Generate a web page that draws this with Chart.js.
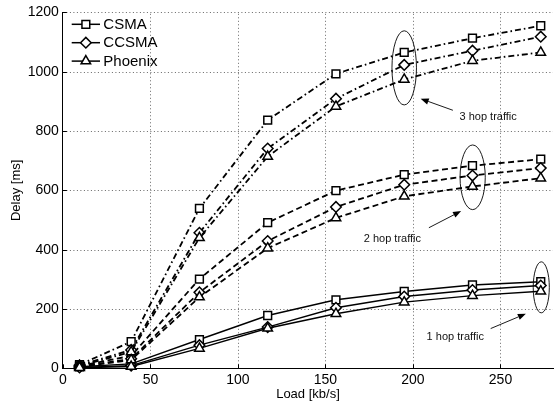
<!DOCTYPE html>
<html><head><meta charset="utf-8">
<script src="https://cdn.jsdelivr.net/npm/chart.js@4.4.1/dist/chart.umd.min.js"></script>
<style>html,body{margin:0;padding:0;background:#fff}#wrap{width:560px;height:404px}</style>
</head><body><div id="wrap"><canvas id="c" width="560" height="404"></canvas></div>
<script>
// ---- data ----
const loads = [9.5, 39, 78, 117, 156, 195, 234, 273];
const seriesNames = ['CSMA', 'CCSMA', 'Phoenix'];
const hop1CSMA    = [5, 15, 97, 178, 231, 259, 281, 292];
const hop1CCSMA   = [3, 9, 78, 139, 204, 242, 264, 279];
const hop1Phoenix = [2, 6, 67, 135, 184, 223, 245, 260];
const hop2CSMA    = [8, 42, 301, 491, 599, 653, 683, 705];
const hop2CCSMA   = [6, 32, 256, 429, 544, 619, 650, 675];
const hop2Phoenix = [5, 28, 240, 405, 507, 580, 613, 641];
const hop3CSMA    = [12, 90, 539, 837, 993, 1065, 1113, 1155];
const hop3CCSMA   = [10, 62, 457, 741, 909, 1023, 1071, 1118];
const hop3Phoenix = [8, 55, 440, 714, 883, 974, 1037, 1065];
const xTicks = [0, 50, 100, 150, 200, 250];
const yTicks = [0, 200, 400, 600, 800, 1000, 1200];
const hopLabels = ['1 hop traffic', '2 hop traffic', '3 hop traffic'];

// ---- styling / layout ----
const FONT = '"Liberation Sans", Arial, Helvetica, sans-serif';
const markerStyles = ['rect', 'rectRot', 'triangle'];
const markerOrder = [3, 2, 1];
const hopDash = [[], [6, 3.5], [6, 3, 1.6, 3]];
const hopData = [
  [hop1CSMA, hop1CCSMA, hop1Phoenix],
  [hop2CSMA, hop2CCSMA, hop2Phoenix],
  [hop3CSMA, hop3CCSMA, hop3Phoenix]
];
// annotation geometry (in data units)
const annot = [
  { ellipse: [273.3, 273, 4.6, 86],  from: [244.4, 134], to: [264.5, 184], text: [207.8, 106] },
  { ellipse: [234.1, 644, 7.2, 109], from: [209.1, 474], to: [227.5, 530], text: [171.9, 435] },
  { ellipse: [195.0, 1013, 7.0, 125], from: [222.8, 870], to: [204.4, 909], text: [226.6, 848] }
];

const datasets = [];
hopData.forEach((group, h) => {
  group.forEach((vals, s) => {
    datasets.push({
      label: seriesNames[s] + ' ' + hopLabels[h],
      data: loads.map((x, i) => ({ x: x, y: vals[i] })),
      borderColor: '#000',
      backgroundColor: '#fff',
      borderWidth: h === 0 ? 1.4 : 1.8,
      borderDash: hopDash[h],
      tension: 0,
      pointStyle: markerStyles[s],
      pointRadius: s === 1 ? 5.3 : 5.5,
      pointBorderWidth: 1.5,
      pointBorderColor: '#000',
      pointBackgroundColor: '#fff',
      order: markerOrder[s],
      clip: false
    });
  });
});

const decor = {
  id: 'decor',
  beforeDatasetsDraw(chart) {
    const ctx = chart.ctx, xs = chart.scales.x, ys = chart.scales.y, ca = chart.chartArea;
    ctx.save();
    ctx.strokeStyle = 'rgba(0,0,0,0.6)';
    ctx.lineWidth = 1;
    ctx.setLineDash([1, 2.5]);
    xTicks.forEach(v => {
      if (v === xs.min) return;
      const x = Math.round(xs.getPixelForValue(v)) + 0.5;
      ctx.beginPath(); ctx.moveTo(x, ca.bottom); ctx.lineTo(x, ca.top); ctx.stroke();
    });
    yTicks.forEach(v => {
      if (v === ys.min) return;
      const y = Math.round(ys.getPixelForValue(v)) + 0.5;
      ctx.beginPath(); ctx.moveTo(ca.left, y); ctx.lineTo(ca.right, y); ctx.stroke();
    });
    ctx.restore();
  },
  afterDatasetsDraw(chart) {
    const ctx = chart.ctx, xs = chart.scales.x, ys = chart.scales.y;
    ctx.save();
    ctx.strokeStyle = '#000';
    ctx.fillStyle = '#000';
    annot.forEach((a, i) => {
      const [cx, cy, rx, ry] = a.ellipse;
      const px = xs.getPixelForValue(cx), py = ys.getPixelForValue(cy);
      const prx = Math.abs(xs.getPixelForValue(cx + rx) - px);
      const pry = Math.abs(ys.getPixelForValue(cy + ry) - py);
      ctx.lineWidth = 0.9;
      ctx.setLineDash([]);
      ctx.beginPath();
      ctx.ellipse(px, py, prx, pry, 0, 0, Math.PI * 2);
      ctx.stroke();
      // arrow
      const x1 = xs.getPixelForValue(a.from[0]), y1 = ys.getPixelForValue(a.from[1]);
      const x2 = xs.getPixelForValue(a.to[0]), y2 = ys.getPixelForValue(a.to[1]);
      const ang = Math.atan2(y2 - y1, x2 - x1);
      const hl = 8, hw = 3.2;
      const bx = x2 - hl * Math.cos(ang), by = y2 - hl * Math.sin(ang);
      ctx.beginPath();
      ctx.moveTo(x1, y1); ctx.lineTo(bx, by); ctx.stroke();
      ctx.beginPath();
      ctx.moveTo(x2, y2);
      ctx.lineTo(bx + hw * Math.sin(ang), by - hw * Math.cos(ang));
      ctx.lineTo(bx - hw * Math.sin(ang), by + hw * Math.cos(ang));
      ctx.closePath(); ctx.fill();
      // text
      ctx.font = '11px ' + FONT;
      ctx.textAlign = 'left';
      ctx.textBaseline = 'middle';
      ctx.fillStyle = '#111';
      ctx.fillText(hopLabels[i], xs.getPixelForValue(a.text[0]), ys.getPixelForValue(a.text[1]));
      ctx.fillStyle = '#000';
    });
    ctx.restore();
  },
  afterDraw(chart) {
    const ctx = chart.ctx, xs = chart.scales.x, ys = chart.scales.y, ca = chart.chartArea;
    ctx.save();
    // inward tick marks
    ctx.strokeStyle = '#000'; ctx.lineWidth = 1; ctx.setLineDash([]);
    ys.ticks.forEach(t => {
      const y = Math.round(ys.getPixelForValue(t.value)) + 0.5;
      ctx.beginPath(); ctx.moveTo(ca.left, y); ctx.lineTo(ca.left + 4, y); ctx.stroke();
    });
    xs.ticks.forEach(t => {
      const x = Math.round(xs.getPixelForValue(t.value)) + 0.5;
      ctx.beginPath(); ctx.moveTo(x, ca.bottom); ctx.lineTo(x, ca.bottom - 4); ctx.stroke();
    });
    // legend
    const lx0 = 71.7, lx1 = 100, ly0 = 24.3, dy = 18.4;
    seriesNames.forEach((name, s) => {
      const y = ly0 + s * dy;
      ctx.strokeStyle = '#000'; ctx.lineWidth = 1.5; ctx.setLineDash([]);
      ctx.beginPath(); ctx.moveTo(lx0, y); ctx.lineTo(lx1, y); ctx.stroke();
      ctx.fillStyle = '#fff';
      Chart.helpers.drawPoint(ctx, { pointStyle: markerStyles[s], rotation: 0, radius: s === 1 ? 5.3 : 5.5, borderWidth: 1.5 }, (lx0 + lx1) / 2, y);
      ctx.fillStyle = '#000';
      ctx.font = '15px ' + FONT;
      ctx.textAlign = 'left'; ctx.textBaseline = 'middle';
      ctx.fillText(name, 103.3, y + 0.5);
    });
    ctx.restore();
  }
};

new Chart(document.getElementById('c'), {
  type: 'line',
  data: { datasets: datasets },
  plugins: [decor],
  options: {
    responsive: false,
    animation: false,
    devicePixelRatio: 1,
    layout: { padding: { left: 0, right: 0, top: 9.7, bottom: 0 } },
    plugins: { legend: { display: false }, tooltip: { enabled: false } },
    scales: {
      x: {
        type: 'linear', min: 0, max: 280,
        afterBuildTicks(scale) { scale.ticks = xTicks.map(v => ({ value: v })); },
        afterFit(scale) { scale.height = 35.7; },
        ticks: { color: '#000', font: { family: FONT, size: 14 }, padding: 3, maxRotation: 0, callback: v => String(v) },
        grid: { display: false, drawTicks: false },
        border: { display: true, color: '#000', width: 1 },
        title: { display: true, text: 'Load [kb/s]', color: '#000', font: { family: FONT, size: 13 }, padding: { top: 0, bottom: 2 } }
      },
      y: {
        type: 'linear', min: 0, max: 1200,
        afterBuildTicks(scale) { scale.ticks = yTicks.map(v => ({ value: v })); },
        afterFit(scale) { scale.width = 62.9; },
        ticks: { color: '#000', font: { family: FONT, size: 14 }, padding: 4, callback: v => String(v) },
        grid: { display: false, drawTicks: false },
        border: { display: true, color: '#000', width: 1 },
        title: { display: true, text: 'Delay [ms]', color: '#000', font: { family: FONT, size: 13 }, padding: { top: 9, bottom: 0 } }
      }
    }
  }
});
</script>
</body></html>
